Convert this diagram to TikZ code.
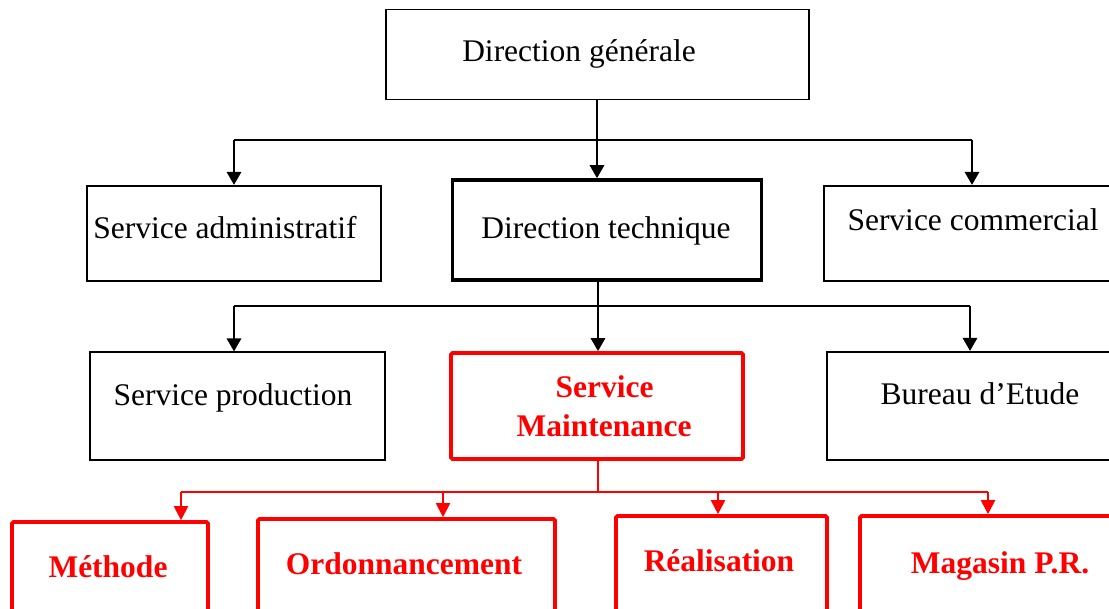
\documentclass[tikz,border=0pt]{standalone}
\usepackage{fontspec}
\setmainfont{Liberation Serif}
\usetikzlibrary{arrows.meta}
\begin{document}
\begin{tikzpicture}[x=1pt,y=-1pt,
  box/.style={draw=black, rectangle, inner sep=0pt, line width=2pt},
  rbox/.style={draw=red, rectangle, inner sep=0pt, line width=3.6pt, rounded corners=1.5pt},
  lbl/.style={anchor=base, inner sep=0pt, font=\fontsize{31.5}{36}\selectfont},
  rlbl/.style={lbl, text=red, font=\fontsize{31.5}{36}\selectfont\bfseries},
  bus/.style={line width=2pt},
  conn/.style={line width=2.8pt, -{Triangle[length=13pt,width=14pt]}},
  rbus/.style={draw=red, line width=2pt},
  rconn/.style={draw=red, line width=2pt, -{Triangle[length=14pt,width=14pt]}}]
\useasboundingbox (0,0) rectangle (1109,609);
\clip (0,0) rectangle (1109,609);

% top level
\node[box, line width=1.3pt, minimum width=423pt, minimum height=90pt] (dg) at (597.5,54.5) {};
\node[lbl] (dgl) at (579,62) {Direction générale};

% second level
\node[box, minimum width=294pt, minimum height=95pt] (sa) at (234,233.5) {};
\node[lbl] (sal) at (225,239) {Service administratif};
\node[box, line width=3.5pt, minimum width=309pt, minimum height=100pt] (dt) at (607,230) {};
\node[lbl] (dtl) at (606,239) {Direction technique};
\node[box, minimum width=296pt, minimum height=95pt] (sc) at (972,233.5) {};
\node[lbl] (scl) at (973,231) {Service commercial};

% third level
\node[box, minimum width=295pt, minimum height=108pt] (sp) at (237.5,406.5) {};
\node[lbl] (spl) at (233,406) {Service production};
\node[rbox, minimum width=292pt, minimum height=106pt] (sm) at (597,406) {};
\node[rlbl] (sml1) at (604.5,398) {Service};
\node[rlbl] (sml2) at (604,437) {Maintenance};
\node[box, minimum width=286pt, minimum height=108pt] (be) at (970,406) {};
\node[lbl] (bel) at (980,405) {Bureau d’Etude};

% maintenance units
\node[rbox, minimum width=196pt, minimum height=140pt] (me) at (110,592) {};
\node[rlbl] (mel) at (108,577) {Méthode};
\node[rbox, minimum width=297pt, minimum height=140pt] (or) at (406.5,589) {};
\node[rlbl] (orl) at (404,574) {Ordonnancement};
\node[rbox, minimum width=211pt, minimum height=140pt] (re) at (721.5,586) {};
\node[rlbl] (rel) at (719,571) {Réalisation};
\node[rbox, minimum width=256pt, minimum height=140pt] (ma) at (988,586) {};
\node[rlbl] (mal) at (1000,573) {Magasin P.R.};

% connectors: direction generale
\coordinate (b1) at (597,140);
\draw[conn] (dg.south -| b1) -- (dt.north -| b1);
\draw[bus] (sa.north |- b1) -- (sc.north |- b1);
\draw[conn] (sa.north |- b1) -- (sa.north);
\draw[conn] (sc.north |- b1) -- (sc.north);

% connectors: direction technique
\coordinate (b2) at (598,306);
\coordinate (b2l) at (234,306);
\draw[conn] (dt.south -| b2) -- (sm.north -| b2);
\draw[bus] (b2l) -- (be.north |- b2);
\draw[conn] (b2l) -- (sp.north -| b2l);
\draw[conn] (be.north |- b2) -- (be.north);

% connectors: service maintenance
\coordinate (b3) at (597.5,492);
\coordinate (b3a) at (181,492);
\coordinate (b3b) at (443,492);
\coordinate (b3c) at (718,492);
\draw[rbus] (sm.south -| b3) -- (b3);
\draw[rbus] (b3a) -- (ma.north |- b3);
\draw[rconn] (b3a) -- (me.north -| b3a);
\draw[rconn] (b3b) -- (or.north -| b3b);
\draw[rconn] (b3c) -- (re.north -| b3c);
\draw[rconn] (ma.north |- b3) -- (ma.north);
\end{tikzpicture}
\end{document}
